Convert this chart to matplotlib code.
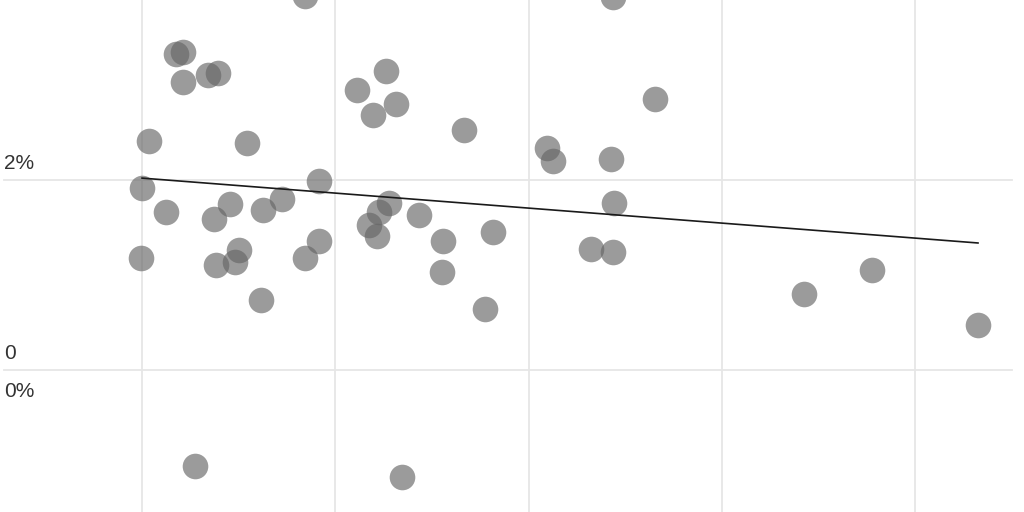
import matplotlib
matplotlib.use('Agg')
import matplotlib.pyplot as plt
from matplotlib import transforms

# scatter values (x in grid units, y in %)
x_vals = [0.843, 2.437, 0.176, 0.212, 0.212, 0.341, 0.393, 0.036, 0.543, 1.262,
          1.112, 1.314, 1.195, 0.916, 0.000, 0.124, 0.455, 0.372, 0.626, 0.724,
          1.278, 1.226, 1.174, 1.216, 1.433, 0.916, 0.843, -0.005, 0.502, 0.481,
          0.383, 0.616, 1.557, 1.552, 2.654, 1.666, 2.095, 2.126, 2.426, 2.442,
          1.816, 2.323, 2.437, 1.774, 3.425, 3.777, 4.325, 0.274, 1.345]
y_vals = [3.937, 3.926, 3.326, 3.347, 3.032, 3.105, 3.126, 2.411, 2.389, 3.147,
          2.947, 2.800, 2.684, 1.989, 1.916, 1.663, 1.747, 1.589, 1.684, 1.800,
          1.758, 1.663, 1.526, 1.411, 1.632, 1.358, 1.179, 1.179, 1.263, 1.137,
          1.105, 0.737, 1.358, 1.032, 2.853, 2.526, 2.337, 2.200, 2.221, 1.758,
          1.453, 1.274, 1.242, 0.642, 0.800, 1.053, 0.474, -1.011, -1.126]

# trend line end points
trend_x = [0.0, 4.325]
trend_y = [2.02, 1.337]

x_grid = [0, 1, 2, 3, 4]
y_grid = [0, 2]
y_labels = [(2, '2%', 'above'), (0, '0', 'above'), (0, '0%', 'below')]

fig = plt.figure(figsize=(10.24, 5.12), dpi=100)
ax = fig.add_axes([0, 0, 1, 1])
ax.set_xlim(-0.735, 4.563)
ax.set_ylim(-1.495, 3.895)
for s in ax.spines.values():
    s.set_visible(False)
ax.set_xticks([])
ax.set_yticks([])

for gx in x_grid:
    ax.axvline(gx, color='#e6e6e6', lw=1.3, zorder=0)
for gy in y_grid:
    ax.axhline(gy, xmin=4 / 1024, xmax=1012 / 1024, color='#e6e6e6', lw=1.3, zorder=0)

ax.scatter(x_vals, y_vals, s=340, color='#666666', alpha=0.65, linewidths=0, zorder=2)
ax.plot(trend_x, trend_y, color='#1a1a1a', lw=1.2, zorder=3)

trans = transforms.blended_transform_factory(ax.transAxes, ax.transData)
for yv, lab, pos in y_labels:
    off = 5 if pos == 'above' else -9
    ax.annotate(lab, xy=(4 / 1024, yv), xycoords=trans, xytext=(0, off),
                textcoords='offset points', ha='left',
                va='bottom' if pos == 'above' else 'top',
                fontsize=15, color='#333333', family='Liberation Sans')

fig.savefig('out.png', dpi=100)
